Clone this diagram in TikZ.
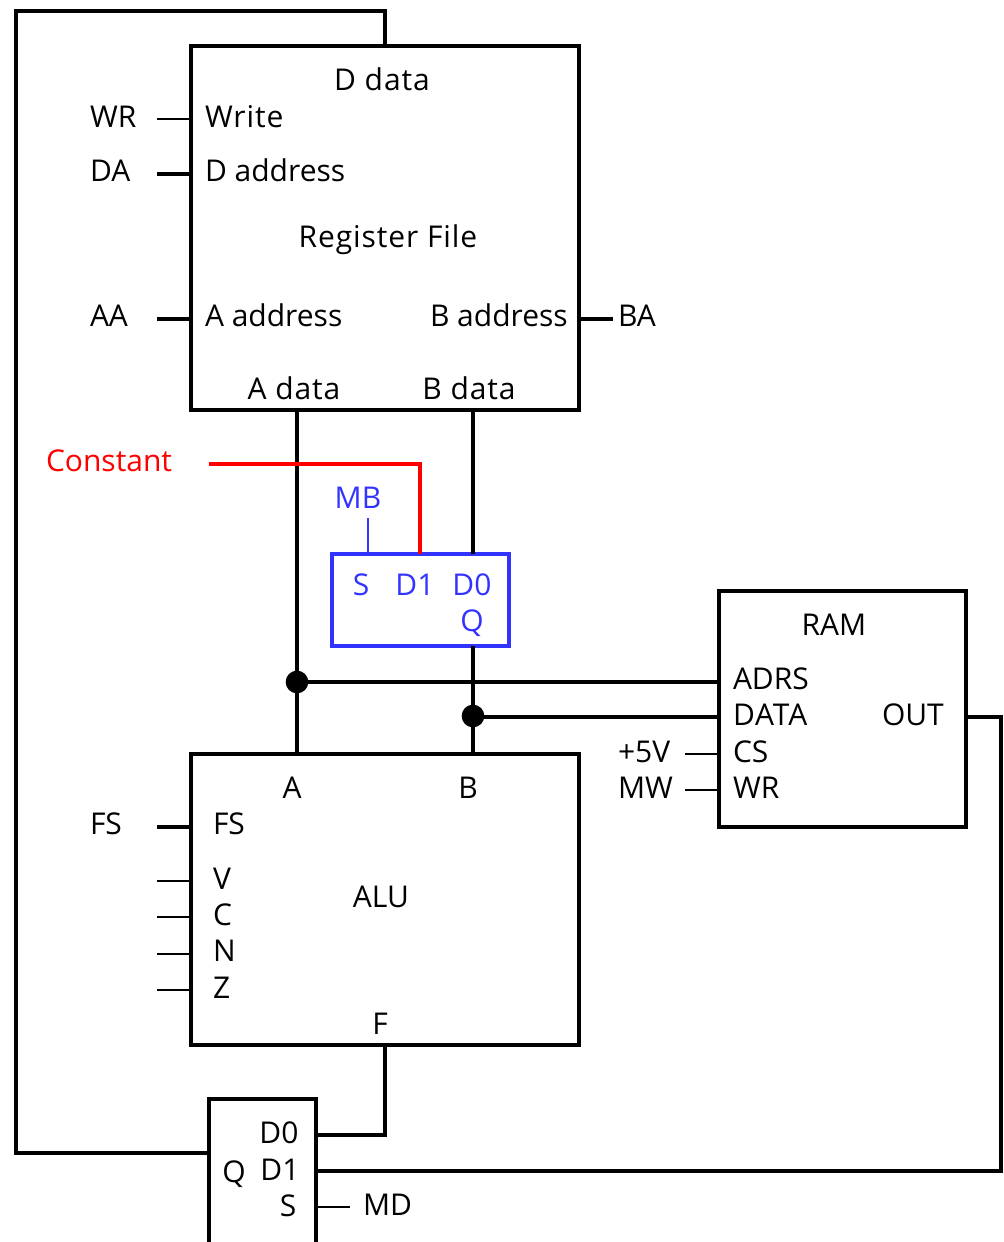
\documentclass[tikz,border=0pt]{standalone}
\usepackage{fontspec}
\setmainfont{Open Sans}
\definecolor{muxblue}{RGB}{51,51,255}
\tikzset{
  x=0.75pt,y=-0.75pt,
  every node/.style={font=\fontsize{22.5}{26}\selectfont,inner sep=0pt,outer sep=0pt},
  lab/.style={anchor=base west},
  labc/.style={anchor=base},
  wider/.style={font=\fontsize{22.5}{26}\selectfont\addfontfeature{LetterSpace=3}},
  blockbox/.style 2 args={draw=black,line width=3.4pt,anchor=north west,minimum width=#1*0.75pt,minimum height=#2*0.75pt},
  muxbox/.style 2 args={draw=muxblue,line width=3pt,anchor=north west,minimum width=#1*0.75pt,minimum height=#2*0.75pt},
  thick wire/.style={draw=black,line width=3.4pt,line join=miter},
  thin wire/.style={draw=black,line width=1.5pt},
  dot/.style={circle,fill=black,minimum size=17pt},
}
\begin{document}
\begin{tikzpicture}
\useasboundingbox (0,0) rectangle (1003,1242);
\clip (0,0) rectangle (1003,1242);
% Blocks
\node[blockbox={388}{364}] (reg) at (191,46) {};
\node[blockbox={388}{291}] (alu) at (191,754) {};
\node[blockbox={247}{236}] (ram) at (719,591) {};
\node[blockbox={107}{170}] (outmux) at (209,1099) {};
\node[muxbox={177}{92}] (bmux) at (332,554) {};
% Junctions
\node[dot] (ja) at (297,682) {};
\node[dot] (jb) at (473,716) {};
% Free ends
\coordinate (wrS) at (157,119);
\coordinate (daS) at (157,174);
\coordinate (aaS) at (157,319);
\coordinate (baE) at (613,319);
\coordinate (constS) at (209,464);
\coordinate (constC) at (420,464);
\coordinate (mbS) at (368,518);
\coordinate (fsS) at (157,827);
\coordinate (vS) at (157,881);
\coordinate (cS) at (157,917);
\coordinate (nS) at (157,954);
\coordinate (zS) at (157,990);
\coordinate (csS) at (685,754);
\coordinate (mwS) at (685,790);
\coordinate (mdE) at (350,1207);
\coordinate (topR) at (385,11);
\coordinate (topL) at (16,11);
\coordinate (botL) at (16,1153);
\coordinate (dataY) at (473,717);
\coordinate (outR) at (1001,717);
\coordinate (outB) at (1001,1171);
\coordinate (fB) at (385,1135);
% Register-file wires
\draw[thick wire] (reg.north) -- (topR) -- (topL) -- (botL) -- (botL -| outmux.west);
\draw[thin wire] (wrS) -- (wrS -| reg.west);
\draw[thick wire] (daS) -- (daS -| reg.west);
\draw[thick wire] (aaS) -- (aaS -| reg.west);
\draw[thick wire] (baE) -- (baE -| reg.east);
\draw[thick wire] (ja |- reg.south) -- (ja |- alu.north);
\draw[thick wire] (jb |- reg.south) -- (jb |- bmux.north);
\draw[thick wire] (jb |- bmux.south) -- (jb |- alu.north);
% Constant and MB
\draw[draw=red,line width=3.4pt] (constS) -- (constC) -- (constC |- bmux.north);
\draw[draw=muxblue,line width=1.5pt] (mbS) -- (mbS |- bmux.north);
% RAM wires
\draw[thick wire] (ja) -- (ja -| ram.west);
\draw[thick wire] (dataY) -- (dataY -| ram.west);
\draw[thin wire] (csS) -- (csS -| ram.west);
\draw[thin wire] (mwS) -- (mwS -| ram.west);
\draw[thick wire] (outR -| ram.east) -- (outR) -- (outB) -- (outB -| outmux.east);
% ALU wires
\draw[thick wire] (fsS) -- (fsS -| alu.west);
\draw[thin wire] (vS) -- (vS -| alu.west);
\draw[thin wire] (cS) -- (cS -| alu.west);
\draw[thin wire] (nS) -- (nS -| alu.west);
\draw[thin wire] (zS) -- (zS -| alu.west);
\draw[thick wire] (alu.south) -- (fB) -- (fB -| outmux.east);
\draw[thin wire] (mdE) -- (mdE -| outmux.east);
% Labels
\node[labc,wider] (t1) at (382,90) {D data};
\node[lab,wider] (t2) at (205,127) {Write};
\node[lab] (t3) at (205,181) {D address};
\node[labc,wider] (t4) at (388,247) {Register File};
\node[lab] (t5) at (205,326) {A address};
\node[lab] (t6) at (430,326) {B address};
\node[labc,wider] (t7) at (294,399) {A data};
\node[labc,wider] (t8) at (469,399) {B data};
\node[lab] (t9) at (90,127) {WR};
\node[lab] (t10) at (90,181) {DA};
\node[lab] (t11) at (90,326) {AA};
\node[lab] (t12) at (618,326) {BA};
\node[lab,text=red] (t13) at (46,471) {Constant};
\node[labc,text=muxblue] (t14) at (358,508) {MB};
\node[labc,text=muxblue] (t15) at (361,595) {S};
\node[labc,text=muxblue] (t16) at (415,595) {D1};
\node[labc,text=muxblue] (t17) at (472,595) {D0};
\node[labc,text=muxblue] (t18) at (472,631) {Q};
\node[labc] (t19) at (834,635) {RAM};
\node[lab] (t20) at (733,689) {ADRS};
\node[lab,wider] (t21) at (733,725) {DATA};
\node[lab] (t22) at (882,725) {OUT};
\node[lab] (t23) at (733,762) {CS};
\node[lab] (t24) at (733,798) {WR};
\node[lab] (t25) at (618,762) {+5V};
\node[lab] (t26) at (618,798) {MW};
\node[labc] (t27) at (292,798) {A};
\node[labc] (t28) at (468,798) {B};
\node[lab] (t29) at (90,834) {FS};
\node[lab] (t30) at (213,834) {FS};
\node[lab] (t31) at (213,889) {V};
\node[lab] (t32) at (213,925) {C};
\node[lab] (t33) at (213,961) {N};
\node[lab] (t34) at (213,998) {Z};
\node[labc] (t35) at (381,907) {ALU};
\node[labc] (t36) at (380,1034) {F};
\node[labc] (t37) at (279,1143) {D0};
\node[labc] (t38) at (280,1180) {D1};
\node[labc] (t39) at (234,1182) {Q};
\node[labc] (t40) at (288,1216) {S};
\node[lab] (t41) at (363,1215) {MD};
\end{tikzpicture}
\end{document}
